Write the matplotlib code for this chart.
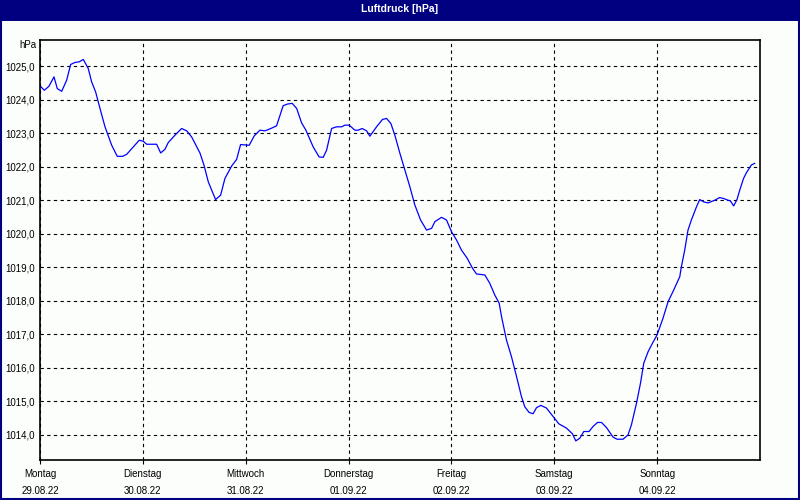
import numpy as np
import matplotlib
matplotlib.use("Agg")
import matplotlib.pyplot as plt
from matplotlib.patches import Rectangle

# Luftdruck ueber eine Woche, x in Tagen ab Montag 00:00
tage = [0.01, 0.042, 0.087, 0.136, 0.168, 0.211, 0.259, 0.298, 0.340, 0.382,
        0.421, 0.469, 0.502, 0.541, 0.583, 0.632, 0.697, 0.751, 0.804, 0.843,
        0.907, 0.965, 1.004, 1.037, 1.134, 1.173, 1.215, 1.247, 1.312, 1.361,
        1.377, 1.426, 1.474, 1.555, 1.594, 1.636, 1.707, 1.756, 1.798, 1.863,
        1.912, 1.950, 2.034, 2.083, 2.138, 2.187, 2.245, 2.300, 2.364, 2.407,
        2.452, 2.495, 2.543, 2.585, 2.656, 2.714, 2.753, 2.786, 2.835, 2.883,
        2.932, 2.964, 3.006, 3.061, 3.093, 3.132, 3.175, 3.207, 3.272, 3.330,
        3.369, 3.411, 3.450, 3.499, 3.547, 3.596, 3.644, 3.700, 3.758, 3.807,
        3.839, 3.904, 3.952, 4.001, 4.050, 4.098, 4.153, 4.205, 4.244, 4.325,
        4.373, 4.422, 4.464, 4.487, 4.535, 4.584, 4.633, 4.681, 4.713, 4.755,
        4.794, 4.827, 4.869, 4.924, 4.988, 5.044, 5.119, 5.177, 5.209, 5.248,
        5.287, 5.338, 5.377, 5.420, 5.459, 5.507, 5.572, 5.610, 5.669, 5.717,
        5.750, 5.799, 5.838, 5.870, 5.912, 5.954, 5.999, 6.057, 6.106, 6.161,
        6.220, 6.236, 6.268, 6.300, 6.333, 6.382, 6.414, 6.453, 6.495, 6.560,
        6.608, 6.647, 6.689, 6.712, 6.744, 6.776, 6.803, 6.840, 6.868, 6.916,
        6.948]
druck = [1024.38, 1024.28, 1024.40, 1024.68, 1024.33, 1024.25, 1024.58, 1025.05, 1025.11, 1025.13,
         1025.20, 1024.93, 1024.53, 1024.23, 1023.74, 1023.19, 1022.64, 1022.31, 1022.31, 1022.37,
         1022.59, 1022.79, 1022.76, 1022.67, 1022.67, 1022.41, 1022.52, 1022.72, 1022.94, 1023.09,
         1023.14, 1023.07, 1022.89, 1022.41, 1022.05, 1021.55, 1021.02, 1021.15, 1021.65, 1022.02,
         1022.22, 1022.66, 1022.64, 1022.92, 1023.09, 1023.07, 1023.14, 1023.22, 1023.82, 1023.87,
         1023.89, 1023.74, 1023.31, 1023.09, 1022.59, 1022.29, 1022.28, 1022.49, 1023.14, 1023.19,
         1023.19, 1023.24, 1023.24, 1023.09, 1023.09, 1023.14, 1023.07, 1022.91, 1023.19, 1023.41,
         1023.44, 1023.29, 1022.94, 1022.40, 1021.90, 1021.40, 1020.86, 1020.41, 1020.11, 1020.16,
         1020.36, 1020.49, 1020.41, 1020.06, 1019.81, 1019.51, 1019.27, 1018.97, 1018.80, 1018.77,
         1018.52, 1018.17, 1017.93, 1017.53, 1016.83, 1016.33, 1015.74, 1015.14, 1014.84, 1014.67,
         1014.63, 1014.81, 1014.88, 1014.80, 1014.55, 1014.33, 1014.20, 1014.03, 1013.82, 1013.90,
         1014.10, 1014.10, 1014.25, 1014.37, 1014.37, 1014.22, 1013.93, 1013.87, 1013.87, 1014.00,
         1014.30, 1014.94, 1015.54, 1016.14, 1016.48, 1016.73, 1016.98, 1017.48, 1017.97, 1018.32,
         1018.72, 1019.02, 1019.51, 1020.11, 1020.41, 1020.80, 1021.02, 1020.95, 1020.92, 1021.00,
         1021.08, 1021.05, 1021.00, 1020.98, 1020.83, 1021.02, 1021.30, 1021.65, 1021.82, 1022.05,
         1022.10]

wochentage = ["Montag", "Dienstag", "Mittwoch", "Donnerstag", "Freitag", "Samstag", "Sonntag"]
daten = ["29.08.22", "30.08.22", "31.08.22", "01.09.22", "02.09.22", "03.09.22", "04.09.22"]
y_ticks = list(range(1014, 1026))

navy = "#000080"
font = ["Liberation Sans", "DejaVu Sans"]

fig = plt.figure(figsize=(8, 5), dpi=100, facecolor="#fcfefc")

# Titelleiste und Rahmen
fig.patches.append(Rectangle((0, 1 - 21 / 500), 1, 21 / 500, transform=fig.transFigure,
                             facecolor=navy, edgecolor="none", zorder=0))
fig.patches.append(Rectangle((1 / 800, 1 / 500), 798 / 800, 498 / 500, transform=fig.transFigure,
                             facecolor="none", edgecolor=navy, linewidth=1.5, zorder=0))
fig.text(0.5, 1 - 9 / 500, "Luftdruck [hPa]", color="white", fontsize=7.5, fontweight="bold",
         ha="center", va="center", family=font)

ax = fig.add_axes([40 / 800, 40 / 500, 720 / 800, 420 / 500])
ax.set_facecolor("#fcfefc")
ax.plot(tage, druck, color="#0000ff", linewidth=0.9)

ax.set_xlim(0, 7)
ax.set_ylim(1013.25, 1025.78)

ax.set_xticks(range(7))
ax.set_xticklabels([f"{w}\n{d}" for w, d in zip(wochentage, daten)], family=font,
                   fontsize=7, linespacing=1.85)
ax.set_yticks(y_ticks)
ax.set_yticklabels([f"{v},0" for v in y_ticks], family=font, fontsize=7)
ax.tick_params(axis="x", direction="out", length=3, width=0.8, pad=3.5)
ax.tick_params(axis="y", length=0, pad=4)

ax.grid(True, color="black", linestyle=(0, (3, 3)), linewidth=0.8)
for s in ax.spines.values():
    s.set_linewidth(1.2)
    s.set_color("black")

fig.text(36 / 800, 1 - 45 / 500, "hPa", fontsize=7, ha="right", va="center", family=font)

fig.savefig("out.png", dpi=100, facecolor=fig.get_facecolor())
